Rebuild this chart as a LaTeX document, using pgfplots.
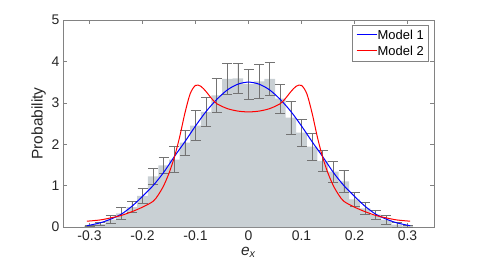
\documentclass[border=0pt]{standalone}
\usepackage{pgfplots}
\pgfplotsset{compat=1.18}
\usepackage{fontspec}
\setmainfont{Liberation Sans}
\definecolor{barc}{RGB}{201,208,212}
\definecolor{errc}{RGB}{115,115,115}
\definecolor{axc}{RGB}{130,130,130}
\definecolor{txc}{RGB}{38,38,38}
\begin{document}
\begin{tikzpicture}
\path[use as bounding box] (0,0) rectangle (481bp,275bp);
\begin{axis}[
  at={(63bp,48bp)}, anchor=south west,
  scale only axis, width=371bp, height=207bp,
  xmin=-0.35, xmax=0.35, ymin=0, ymax=5,
  xtick={-0.3,-0.2,-0.1,0,0.1,0.2,0.3},
  ytick={0,1,2,3,4,5},
  xticklabels={-0.3,-0.2,-0.1,0,0.1,0.2,0.3},
  tick align=inside, major tick length=4bp,
  axis line style={axc, line width=0.6bp},
  every tick/.style={axc, line width=0.6bp},
  /pgf/number format/assume math mode=true,
  tick label style={font=\fontsize{14}{16}\selectfont, text=txc},
  xlabel={\textit{e}\textsubscript{\textit{x}}},
  ylabel={Probability},
  label style={font=\fontsize{15.5}{17}\selectfont, text=txc},
  xlabel style={yshift=0bp},
  ylabel style={yshift=-1bp},
  legend style={at={(axis description cs:0.985,0.975)}, anchor=north east,
    font=\fontsize{13}{15}\selectfont, draw=axc, fill=white,
    inner sep=2.5bp, row sep=1.5bp, column sep=0pt},
  legend cell align=left,
  legend image code/.code={},
  clip=false,
]
\addplot[ybar, bar width=0.02, fill=barc, draw=none, forget plot,
  error bars/.cd, y dir=both, y explicit,
  error bar style={errc, line width=0.7bp},
  error mark options={rotate=90, mark size=5bp, errc, line width=0.7bp}]
  coordinates {
  (-0.30,0.03) +- (0,0.02)
  (-0.28,0.07) +- (0,0.04)
  (-0.26,0.18) +- (0,0.09)
  (-0.24,0.33) +- (0,0.14)
  (-0.22,0.48) +- (0,0.13)
  (-0.20,0.75) +- (0,0.18)
  (-0.18,1.22) +- (0,0.20)
  (-0.16,1.49) +- (0,0.19)
  (-0.14,1.63) +- (0,0.32)
  (-0.12,2.04) +- (0,0.30)
  (-0.10,2.45) +- (0,0.36)
  (-0.08,2.78) +- (0,0.34)
  (-0.06,3.18) +- (0,0.42)
  (-0.04,3.58) +- (0,0.37)
  (-0.02,3.59) +- (0,0.36)
  (0.00,3.45) +- (0,0.36)
  (0.02,3.52) +- (0,0.41)
  (0.04,3.58) +- (0,0.39)
  (0.06,3.10) +- (0,0.35)
  (0.08,2.64) +- (0,0.40)
  (0.10,2.28) +- (0,0.32)
  (0.12,1.94) +- (0,0.32)
  (0.14,1.60) +- (0,0.26)
  (0.16,1.34) +- (0,0.25)
  (0.18,1.10) +- (0,0.26)
  (0.20,0.67) +- (0,0.17)
  (0.22,0.45) +- (0,0.14)
  (0.24,0.30) +- (0,0.11)
  (0.26,0.17) +- (0,0.10)
  (0.28,0.06) +- (0,0.06)
  (0.30,0.02) +- (0,0.02)
  };
\addplot[color=blue, line width=1bp, smooth, no markers] coordinates {
  (-0.305,0.03) (-0.28,0.10) (-0.26,0.19) (-0.24,0.31) (-0.22,0.50) (-0.20,0.74)
  (-0.18,1.00) (-0.16,1.32) (-0.14,1.70) (-0.12,2.06) (-0.10,2.44)
  (-0.08,2.79) (-0.06,3.08) (-0.04,3.31) (-0.02,3.45) (0,3.50)
  (0.02,3.45) (0.04,3.31) (0.06,3.08) (0.08,2.79) (0.10,2.44)
  (0.12,2.06) (0.14,1.70) (0.16,1.32) (0.18,1.00) (0.20,0.74)
  (0.22,0.50) (0.24,0.31) (0.26,0.19) (0.28,0.10) (0.305,0.03)
};
\addlegendentry{\textcolor{blue}{\rule[0.32em]{20bp}{1bp}}\hspace{1bp}Model 1}
\addplot[color=red, line width=1bp, smooth, no markers] coordinates {
  (-0.305,0.14) (-0.28,0.17) (-0.26,0.22) (-0.24,0.28) (-0.22,0.37) (-0.20,0.48)
  (-0.18,0.62) (-0.17,0.78) (-0.16,1.00) (-0.15,1.30) (-0.14,1.68)
  (-0.13,2.17) (-0.12,2.75) (-0.11,3.22) (-0.10,3.42) (-0.09,3.40)
  (-0.08,3.27) (-0.07,3.11) (-0.06,2.98) (-0.04,2.86) (-0.02,2.80) (0,2.78)
  (0.02,2.80) (0.04,2.86) (0.06,2.98) (0.07,3.11) (0.08,3.27)
  (0.09,3.40) (0.10,3.42) (0.11,3.22) (0.12,2.75) (0.13,2.17)
  (0.14,1.68) (0.15,1.30) (0.16,1.00) (0.17,0.78) (0.18,0.62)
  (0.20,0.48) (0.22,0.37) (0.24,0.28) (0.26,0.22) (0.28,0.17) (0.305,0.14)
};
\addlegendentry{\textcolor{red}{\rule[0.32em]{20bp}{1bp}}\hspace{1bp}Model 2}
\end{axis}
\end{tikzpicture}
\end{document}
